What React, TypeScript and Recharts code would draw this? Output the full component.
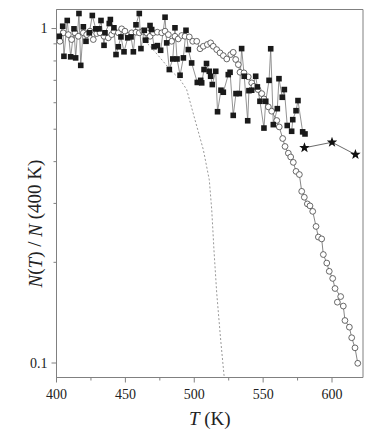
import { LineChart, Line, XAxis, YAxis, ReferenceArea } from "recharts";

// filled squares
const squareT = [
  402.0, 404.5, 405.4, 407.8, 410.3, 412.7, 413.9, 416.3, 417.6, 419.5,
  421.4, 423.8, 426.0, 428.5, 430.9, 432.3, 434.5, 435.2, 438.3, 439.1,
  441.7, 443.2, 444.9, 446.8, 449.0, 451.7, 454.1, 455.8, 457.7, 460.1,
  461.3, 463.7, 464.8, 467.9, 469.1, 470.8, 473.2, 475.6, 478.8, 480.0,
  481.9, 484.4, 486.0, 487.5, 489.7, 492.1, 494.0, 495.7, 498.1, 502.2,
  504.7, 505.4, 507.1, 508.9, 510.9, 511.9, 513.1, 515.6, 516.9, 519.4,
  521.1, 524.7, 526.0, 528.3, 530.3, 532.7, 534.4, 536.3, 538.8, 539.7,
  541.7, 544.6, 545.8, 547.7, 550.6, 551.9, 554.3, 555.5, 557.4, 560.3,
  561.5, 563.9, 565.4, 567.5, 570.7, 571.5, 573.9, 575.3, 578.7, 580.4,
];
const squareN = [
  0.948, 1.016, 0.826, 1.057, 0.823, 0.998, 0.817, 1.109, 0.776, 1.012,
  0.916, 0.971, 1.094, 0.998, 0.998, 1.057, 0.891, 0.971, 1.035, 1.064,
  1.005, 0.836, 0.882, 0.944, 0.852, 0.938, 0.944, 0.852, 1.026, 1.109,
  0.871, 0.988, 0.923, 1.021, 0.993, 0.882, 0.889, 0.861, 1.081, 0.906,
  0.754, 0.811, 1.005, 0.811, 0.725, 0.817, 0.988, 0.865, 0.789, 0.69,
  0.7, 0.688, 0.754, 0.786, 0.745, 0.72, 0.68, 0.745, 0.564, 0.654,
  0.645, 0.728, 0.74, 0.55, 0.639, 0.639, 0.871, 0.72, 0.53, 0.652,
  0.654, 0.72, 0.669, 0.606, 0.504, 0.606, 0.7, 0.87, 0.516, 0.576,
  0.708, 0.623, 0.657, 0.513, 0.493, 0.534, 0.568, 0.609, 0.491, 0.484,
];

// open circles
const circleT = [
  402.5, 404.9, 408.6, 411.0, 413.4, 415.8, 419.5, 421.9, 424.3, 426.7,
  429.2, 431.6, 434.5, 437.6, 440.1, 441.7, 444.9, 447.3, 449.7, 452.1,
  454.6, 457.7, 460.1, 462.6, 465.5, 467.9, 470.3, 473.2, 476.4, 478.8,
  481.2, 483.6, 486.0, 488.4, 490.9, 493.3, 496.4, 498.9, 501.8, 504.2,
  506.6, 509.5, 511.9, 513.8, 516.3, 518.7, 521.1, 523.6, 526.5, 528.3,
  530.1, 532.0, 533.2, 536.1, 539.2, 541.7, 543.4, 546.3, 549.0, 550.6,
  553.8, 556.2, 559.9, 561.7, 564.2, 565.9, 568.3, 570.0, 571.9, 573.9,
  576.3, 578.0, 579.9, 582.1, 584.0, 586.0, 588.4, 590.1, 592.5, 593.7,
  596.2, 598.0, 600.5, 602.2, 606.3, 603.9, 608.2, 609.4, 612.6, 614.3,
  616.7, 618.7,
];
const circleN = [
  0.916, 0.971, 0.959, 0.927, 0.971, 0.948, 0.971, 0.959, 0.982, 0.927,
  0.966, 0.971, 0.948, 0.938, 0.959, 0.982, 0.971, 0.998, 0.982, 0.953,
  0.971, 0.975, 0.971, 0.982, 0.971, 0.948, 0.971, 0.975, 0.971, 0.982,
  0.959, 0.916, 0.948, 0.931, 0.953, 0.948, 0.944, 0.916, 0.916, 0.87,
  0.885, 0.896, 0.906, 0.885, 0.865, 0.846, 0.83, 0.811, 0.836, 0.849,
  0.808, 0.78, 0.74, 0.737, 0.717, 0.688, 0.672, 0.657, 0.639, 0.616,
  0.583, 0.566, 0.531, 0.508, 0.469, 0.444, 0.424, 0.413, 0.398, 0.374,
  0.366, 0.326, 0.313, 0.299, 0.295, 0.284, 0.256, 0.238, 0.235, 0.211,
  0.199, 0.188, 0.179, 0.167, 0.158, 0.152, 0.148, 0.134, 0.128, 0.119,
  0.111, 0.0998,
];

// dashed curve
const dashT = [462, 468, 475, 482.4, 489.7, 494.5, 500.5, 506.6, 510.9, 512.7, 514.3, 516.3, 519.2, 521.6, 522.0];
const dashN = [0.935, 0.885, 0.82, 0.754, 0.704, 0.657, 0.534, 0.434, 0.353, 0.287, 0.218, 0.162, 0.117, 0.092, 0.0905];

// stars
const starT = [580, 600, 617];
const starN = [0.44, 0.457, 0.42];

const xTicks = [400, 425, 450, 475, 500, 525, 550, 575, 600];
const xLabels = [400, 450, 500, 550, 600];
const yTicks = [0.1, 0.2, 0.3, 0.4, 0.5, 0.6, 0.7, 0.8, 0.9, 1];
const yLabels = [0.1, 1];

const X_DOMAIN: [number, number] = [400, 622.5];
const Y_DOMAIN: [number, number] = [0.0905, 1.14];

const FONT = "Liberation Serif";
const AXIS = "#808080";

const rows = (ts: number[], ns: number[]) => ts.map((t, i) => ({ t, n: ns[i] }));

function XTick(props: any) {
  const { x, y, payload } = props;
  const major = xLabels.includes(payload.value);
  return (
    <g>
      <line x1={x} y1={y} x2={x} y2={y + (major ? 5 : 3)} stroke={AXIS} />
      {major && (
        <text x={x} y={y + 21} textAnchor="middle" fontSize={14} fontFamily={FONT} fill="#222">
          {payload.value}
        </text>
      )}
    </g>
  );
}

function YTick(props: any) {
  const { x, y, payload } = props;
  const major = yLabels.includes(payload.value);
  return (
    <g>
      <line x1={x} y1={y} x2={x - (major ? 5 : 3)} y2={y} stroke={AXIS} />
      {major && (
        <text x={x - 9} y={y + 4.5} textAnchor="end" fontSize={14} fontFamily={FONT} fill="#222">
          {payload.value}
        </text>
      )}
    </g>
  );
}

function XLabel(props: any) {
  const { viewBox } = props;
  const cx = viewBox.x + viewBox.width / 2;
  return (
    <text x={cx} y={viewBox.y + 47.5} textAnchor="middle" fontSize={19} fontFamily={FONT} fill="#222">
      <tspan fontStyle="italic">T</tspan>
      {" (K)"}
    </text>
  );
}

function YLabel(props: any) {
  const { viewBox } = props;
  const cx = viewBox.x + 34;
  const cy = viewBox.y + 214;
  return (
    <text
      x={cx}
      y={cy}
      transform={`rotate(-90 ${cx} ${cy})`}
      textAnchor="middle"
      dominantBaseline="central"
      fontSize={19}
      fontFamily={FONT}
      fill="#222"
    >
      <tspan fontStyle="italic">N</tspan>(<tspan fontStyle="italic">T</tspan>){" / "}
      <tspan fontStyle="italic">N</tspan>
      {" (400 K)"}
    </text>
  );
}

const squareDot = (p: any) => (
  <rect key={`s${p.index}`} x={p.cx - 2.8} y={p.cy - 2.8} width={5.6} height={5.6} fill="#1a1a1a" />
);

const circleDot = (p: any) => (
  <circle key={`c${p.index}`} cx={p.cx} cy={p.cy} r={2.9} fill="#fff" stroke="#444" strokeWidth={0.8} />
);

const starDot = (p: any) => {
  const pts: string[] = [];
  for (let k = 0; k < 10; k++) {
    const r = k % 2 === 0 ? 5.5 : 2.3;
    const a = -Math.PI / 2 + (k * Math.PI) / 5;
    pts.push(`${p.cx + r * Math.cos(a)},${p.cy + r * Math.sin(a)}`);
  }
  return <polygon key={`st${p.index}`} points={pts.join(" ")} fill="#111" />;
};

export default function App() {
  return (
    <div style={{ position: "absolute", left: 0, top: 0, background: "#fff" }}>
      <LineChart width={374} height={430} margin={{ top: 9.5, right: 11, left: 0.5, bottom: 0.5 }}>
        <XAxis
          dataKey="t"
          type="number"
          domain={X_DOMAIN}
          allowDataOverflow
          ticks={xTicks}
          interval={0}
          tick={<XTick />}
          tickLine={false}
          tickSize={0}
          tickMargin={0}
          axisLine={{ stroke: AXIS }}
          height={52}
          label={<XLabel />}
        />
        <YAxis
          dataKey="n"
          type="number"
          scale="log"
          domain={Y_DOMAIN}
          allowDataOverflow
          ticks={yTicks}
          interval={0}
          tick={<YTick />}
          tickLine={false}
          tickSize={0}
          tickMargin={0}
          axisLine={{ stroke: AXIS }}
          width={56}
          label={<YLabel />}
        />
        <ReferenceArea
          x1={X_DOMAIN[0]}
          x2={X_DOMAIN[1]}
          y1={Y_DOMAIN[0]}
          y2={Y_DOMAIN[1]}
          fill="none"
          stroke={AXIS}
          ifOverflow="visible"
        />
        <Line
          data={rows(dashT, dashN)}
          dataKey="n"
          stroke="#999"
          strokeWidth={1}
          strokeDasharray="2 2"
          dot={false}
          isAnimationActive={false}
        />
        <Line
          data={rows(circleT, circleN)}
          dataKey="n"
          stroke="#666"
          strokeWidth={0.8}
          dot={circleDot}
          isAnimationActive={false}
        />
        <Line
          data={rows(squareT, squareN)}
          dataKey="n"
          stroke="#777"
          strokeWidth={0.8}
          dot={squareDot}
          isAnimationActive={false}
        />
        <Line
          data={rows(starT, starN)}
          dataKey="n"
          stroke="#444"
          strokeWidth={0.8}
          dot={starDot}
          isAnimationActive={false}
        />
      </LineChart>
    </div>
  );
}
